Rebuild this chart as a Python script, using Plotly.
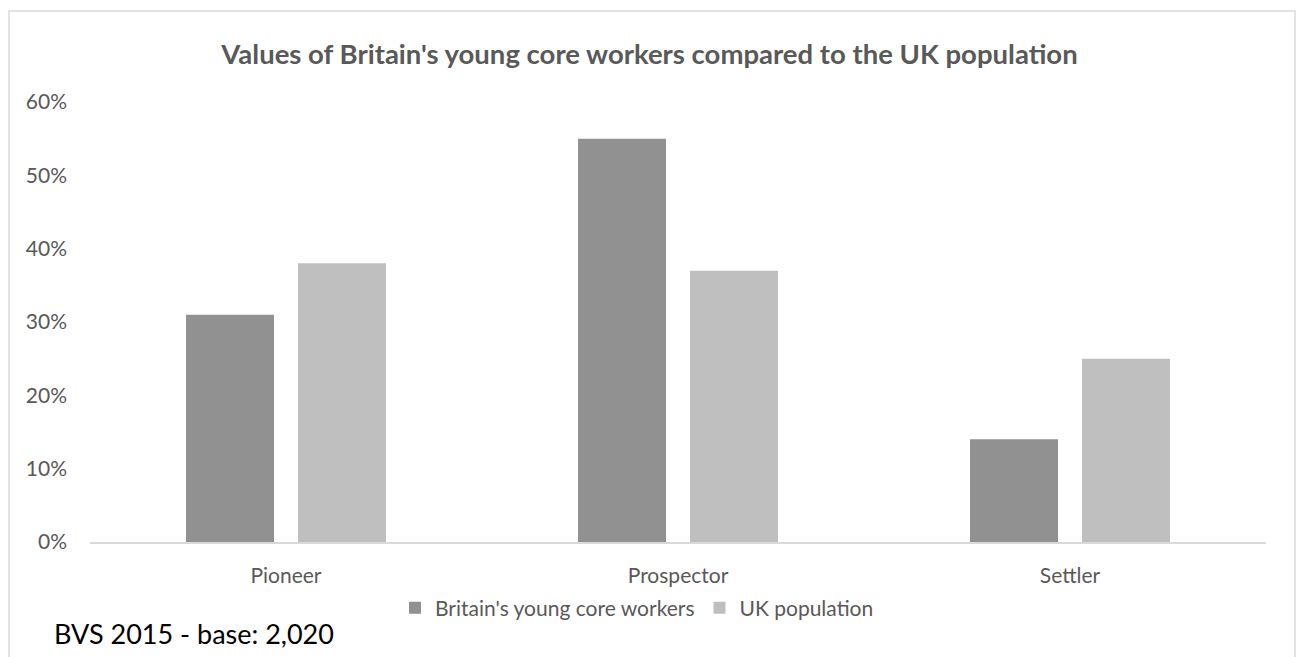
import plotly.graph_objects as go

# Chart data
categories = ["Pioneer", "Prospector", "Settler"]
young_core_workers = [0.31, 0.55, 0.14]
uk_population = [0.38, 0.37, 0.25]
y_ticks = [0, 0.1, 0.2, 0.3, 0.4, 0.5, 0.6]
y_tick_labels = ["0%", "10%", "20%", "30%", "40%", "50%", "60%"]

series_names = ["Britain's young core workers", "UK population"]
series_colors = ["#919191", "#bfbfbf"]

W, H = 1299, 657
ML, MR, MT, MB = 90, 33, 102, 115
plot_w = W - ML - MR
plot_h = H - MT - MB

FONT = "Lato"
TXT = "#595959"

fig = go.Figure()
for name, vals, col in zip(series_names, [young_core_workers, uk_population], series_colors):
    fig.add_trace(go.Bar(
        x=categories, y=vals, name=name,
        marker=dict(color=col, line=dict(width=0)),
    ))


def px_x(p):
    return (p - ML) / plot_w


def px_y(p):
    return (H - MB - p) / plot_h


fig.update_layout(
    width=W, height=H,
    margin=dict(l=ML, r=MR, t=MT, b=MB),
    paper_bgcolor="white", plot_bgcolor="white",
    barmode="group", bargap=0.4286, bargroupgap=0.214,
    font=dict(family=FONT, color=TXT, size=21),
    title=dict(
        text="<b>Values of Britain's young core workers compared to the UK population</b>",
        x=0.5, xref="container", xanchor="center",
        y=1 - 54 / H, yref="container", yanchor="middle",
        font=dict(family=FONT, size=27.5, color=TXT),
    ),
    xaxis=dict(
        showgrid=False, showline=True, linecolor="#d9d9d9", linewidth=1.5,
        ticks="", tickfont=dict(size=21, color=TXT), ticklabelstandoff=14,
        zeroline=False,
    ),
    yaxis=dict(
        range=[0, 0.6], tickvals=y_ticks, ticktext=y_tick_labels,
        showgrid=False, showline=False, zeroline=False, ticks="",
        tickfont=dict(size=21, color=TXT), ticklabelstandoff=22,
    ),
    legend=dict(
        orientation="h", x=px_x(637), xanchor="center",
        y=px_y(608), yanchor="middle",
        font=dict(size=21, color=TXT), itemwidth=30,
        traceorder="normal",
    ),
    showlegend=True,
    shapes=[dict(
        type="rect", xref="paper", yref="paper",
        x0=px_x(9), x1=px_x(1295), y0=px_y(680), y1=px_y(11),
        line=dict(color="#d9d9d9", width=1.5), fillcolor="rgba(0,0,0,0)",
        layer="below",
    )],
    annotations=[dict(
        text="BVS 2015 - base: 2,020", xref="paper", yref="paper",
        x=px_x(52), xanchor="left", y=px_y(633), yanchor="middle",
        showarrow=False, font=dict(family=FONT, size=27, color="#000000"),
    )],
)

fig.write_html("out.html")
